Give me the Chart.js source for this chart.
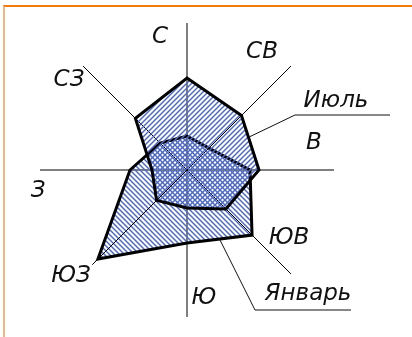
<!DOCTYPE html>
<html>
<head>
<meta charset="utf-8">
<script src="https://cdn.jsdelivr.net/npm/chart.js@4"></script>
<style>
  html, body { margin: 0; padding: 0; background: #fff; }
  #wrap { position: relative; width: 412px; height: 337px; }
  #frame { position: absolute; left: 3px; top: 5px; right: 0; bottom: 0;
           border-top: 2px solid #f07a0a; border-left: 2px solid #f4b680; pointer-events: none; }
</style>
</head>
<body>
<div id="wrap">
  <canvas id="rose" width="412" height="337"></canvas>
  <div id="frame"></div>
</div>
<script>
// wind directions, clockwise from north
const directions = ["С", "СВ", "В", "ЮВ", "Ю", "ЮЗ", "З", "СЗ"];
// repeat of wind per direction (relative units)
const july = [92, 77, 72, 55, 38, 43, 35, 73];
const january = [34, 31, 63, 92, 73, 126, 57, 38];
const seriesNames = ["Июль", "Январь"];
const scaleMax = 147;

// diagonal hatching, dir 1 = "/" and -1 = "\"
function hatch(dir) {
  const s = 5;
  const c = document.createElement("canvas");
  c.width = s; c.height = s;
  const g = c.getContext("2d");
  g.strokeStyle = "#4d68c0";
  g.lineWidth = 1.45;
  g.beginPath();
  if (dir > 0) {
    g.moveTo(-1, s + 1); g.lineTo(s + 1, -1);
    g.moveTo(-1, 1); g.lineTo(1, -1);
    g.moveTo(s - 1, s + 1); g.lineTo(s + 1, s - 1);
  } else {
    g.moveTo(-1, -1); g.lineTo(s + 1, s + 1);
    g.moveTo(s - 1, -1); g.lineTo(s + 1, 1);
    g.moveTo(-1, s - 1); g.lineTo(1, s + 1);
  }
  g.stroke();
  return g.createPattern(c, "repeat");
}

const FONT = 'italic 200 23px "DejaVu Sans"';

// direction captions and series captions with leader lines
const captions = {
  id: "captions",
  afterDraw(chart) {
    const sc = chart.scales.r;
    const ctx = chart.ctx;
    const cx = sc.xCenter, cy = sc.yCenter;
    ctx.save();
    // the south-west axis stops just past the January point
    const sw = sc.getPointPositionForValue(5, 134);
    ctx.strokeStyle = "#000";
    ctx.lineWidth = 1;
    ctx.beginPath();
    ctx.moveTo(cx, cy);
    ctx.lineTo(sw.x, sw.y);
    ctx.stroke();

    // where each direction caption sits, relative to the centre
    const place = [[-27, -133], [75, -118], [127, -27], [102, 68],
                   [17, 128], [-116, 106], [-149, 21], [-118, -90]];
    ctx.font = FONT;
    ctx.fillStyle = "#111";
    ctx.textAlign = "center";
    ctx.textBaseline = "middle";
    directions.forEach((d, i) => ctx.fillText(d, cx + place[i][0], cy + place[i][1]));

    function edgePoint(values, i, j, t) {
      const a = sc.getPointPositionForValue(i, values[i]);
      const b = sc.getPointPositionForValue(j, values[j]);
      return { x: a.x + (b.x - a.x) * t, y: a.y + (b.y - a.y) * t };
    }
    const leaders = [
      { from: edgePoint(july, 1, 2, 0.4), bend: [108, -55], end: [203, -55], text: [149, -69], name: seriesNames[0] },
      { from: edgePoint(january, 4, 3, 0.5), bend: [68, 140], end: [164, 140], text: [121, 124], name: seriesNames[1] }
    ];
    ctx.strokeStyle = "#111";
    leaders.forEach(l => {
      ctx.beginPath();
      ctx.moveTo(l.from.x, l.from.y);
      ctx.lineTo(cx + l.bend[0], cy + l.bend[1]);
      ctx.lineTo(cx + l.end[0], cy + l.end[1]);
      ctx.stroke();
      ctx.fillText(l.name, cx + l.text[0], cy + l.text[1]);
    });
    ctx.restore();
  }
};

new Chart(document.getElementById("rose"), {
  type: "radar",
  data: {
    labels: directions,
    datasets: [
      {
        label: seriesNames[0],
        data: july,
        fill: true,
        backgroundColor: hatch(1),
        borderColor: "#000",
        borderWidth: 3,
        pointRadius: 0,
        tension: 0
      },
      {
        label: seriesNames[1],
        data: january,
        fill: true,
        backgroundColor: hatch(-1),
        borderColor: "#000",
        borderWidth: 3,
        pointRadius: 0,
        tension: 0
      }
    ]
  },
  options: {
    responsive: false,
    animation: false,
    layout: { padding: { left: 40, right: 78, top: 23, bottom: 20 } },
    scales: {
      r: {
        min: 0,
        max: scaleMax,
        ticks: { display: false },
        grid: { display: false },
        pointLabels: { display: false },
        angleLines: {
          display: true,
          color: ctx => ctx.index === 5 ? "rgba(0,0,0,0)" : "#000",
          lineWidth: 1
        }
      }
    },
    plugins: {
      legend: { display: false },
      tooltip: { enabled: false }
    }
  },
  plugins: [captions]
});
</script>
</body>
</html>
